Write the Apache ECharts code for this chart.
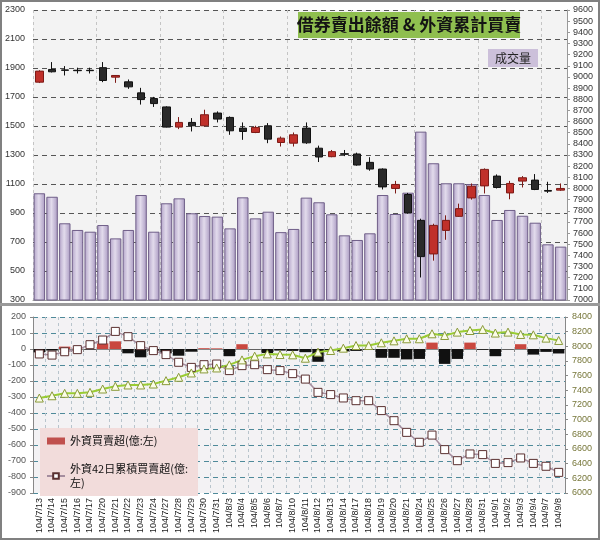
<!DOCTYPE html>
<html><head><meta charset="utf-8">
<script src="https://cdn.jsdelivr.net/npm/echarts@6/dist/echarts.min.js"></script>
<style>html,body{margin:0;padding:0;background:#fff}#c{width:600px;height:540px}</style>
</head><body><div id="c"></div>
<script>
const dates=['104/7/13','104/7/14','104/7/15','104/7/16','104/7/17','104/7/20','104/7/21','104/7/22','104/7/23','104/7/24','104/7/27','104/7/28','104/7/29','104/7/30','104/7/31','104/8/3','104/8/4','104/8/5','104/8/6','104/8/7','104/8/10','104/8/11','104/8/12','104/8/13','104/8/14','104/8/17','104/8/18','104/8/19','104/8/20','104/8/21','104/8/24','104/8/25','104/8/26','104/8/27','104/8/28','104/8/31','104/9/1','104/9/2','104/9/3','104/9/4','104/9/7','104/9/8'];
const volume=[1036,1012,829,783,771,817,725,783,1024,771,967,1001,898,879,875,794,1008,863,909,768,790,1006,974,891,746,714,760,1024,893,1040,1461,1243,1105,1105,1100,1024,852,921,881,833,684,668];
const idxOpen =[8953,9067,9063,9060,9060,9083,8998,8956,8857,8806,8731,8550,8592,8562,8676,8637,8541,8502,8562,8412,8406,8541,8361,8285,8312,8309,8234,8174,8000,7946,7714,7413,7624,7750,7915,8023,8111,7960,8066,8075,7982,7985];
const idxClose=[9052,9046,9059,9056,9056,8968,9013,8911,8797,8761,8550,8592,8562,8661,8622,8517,8511,8547,8442,8451,8481,8409,8282,8330,8306,8210,8174,8014,8036,7780,7389,7669,7714,7819,8020,8171,8009,8045,8096,7991,7976,8000];
const idxLow  =[8945,9040,9013,9031,9031,8953,8947,8893,8752,8731,8547,8532,8511,8556,8592,8481,8436,8496,8406,8376,8376,8400,8237,8280,8290,8204,8159,7991,7955,7774,7202,7353,7540,7744,7900,7955,8000,7903,8009,7985,7960,7978];
const idxHigh =[9060,9133,9097,9083,9083,9133,9016,8977,8902,8821,8737,8640,8631,8706,8691,8646,8592,8562,8586,8466,8502,8592,8384,8345,8345,8321,8280,8180,8068,7960,7729,7684,7759,7864,8045,8180,8126,8068,8111,8129,8060,8045];
const foreignNet=[-21,-10,15,2,-3,35,48,-27,-52,-10,-27,-42,-17,5,4,-45,30,-2,-25,-10,-12,-20,-80,-8,-15,-12,-4,-55,-55,-65,-62,40,-93,-62,40,-5,-45,-2,30,-35,-18,-28];
const foreignCum42=[-31,-38,-17,-4,27,56,110,77,21,-10,-35,-83,-115,-98,-94,-135,-104,-98,-129,-135,-154,-188,-271,-285,-306,-323,-323,-385,-448,-521,-583,-538,-629,-698,-656,-660,-715,-710,-681,-715,-733,-771];
const lendingBal=[7295,7326,7359,7359,7373,7418,7455,7473,7473,7486,7532,7578,7637,7692,7705,7747,7815,7866,7897,7888,7884,7838,7921,7943,7975,8011,8011,8048,8075,8103,8103,8171,8148,8194,8216,8230,8181,8194,8162,8157,8112,8080];

const nameNet='外資買賣超(億:左)';
const nameCum='外資42日累積買賣超(億:左)';
const candles=dates.map((d,i)=>[idxOpen[i],idxClose[i],idxLow[i],idxHigh[i]]);

const chart=echarts.init(document.getElementById('c'),null,{renderer:'canvas'});
const FONT='"Liberation Sans", Arial, sans-serif';
const CJK='"Noto Sans CJK TC","Noto Sans CJK SC",sans-serif';
const plain=v=>String(v);
const lbl={fontSize:9,color:'#333',fontFamily:FONT,formatter:plain};
const vSplit={show:true,lineStyle:{type:[3,3],color:'#c4c4c4',width:1}};

const option={
  animation:false,
  backgroundColor:'#fff',
  grid:[
    {left:33,right:33,top:10,height:290,backgroundColor:'#f3f3f3',show:true,borderWidth:0},
    {left:33,right:35,top:317,height:176,backgroundColor:'#f3f2f4',show:true,borderWidth:0}
  ],
  xAxis:[
    {type:'category',gridIndex:0,data:dates,boundaryGap:true,axisLabel:{show:false},axisTick:{show:false},
     axisLine:{show:true,lineStyle:{color:'#999'}},splitLine:vSplit},
    {type:'category',gridIndex:1,data:dates,boundaryGap:true,
     axisLabel:{rotate:90,fontSize:9,color:'#222',fontFamily:FONT,interval:0,margin:5},
     axisTick:{show:true,inside:false,length:3,lineStyle:{color:'#888'}},
     axisLine:{show:true,lineStyle:{color:'#888'}},splitLine:{show:true,lineStyle:{type:[3,3],color:'#b8c4cc'}}}
  ],
  yAxis:[
    {type:'value',gridIndex:0,min:300,max:2300,interval:200,position:'left',
     axisLabel:Object.assign({margin:8},lbl),axisLine:{show:false},axisTick:{show:false},
     splitLine:{show:true,lineStyle:{type:[5,4],color:'#555',width:1}}},
    {type:'value',gridIndex:0,min:7000,max:9600,interval:100,position:'right',
     axisLabel:Object.assign({margin:6},lbl),axisLine:{show:true,lineStyle:{color:'#999'}},
     axisTick:{show:true,length:3,lineStyle:{color:'#999'}},splitLine:{show:false}},
    {type:'value',gridIndex:1,min:-900,max:200,interval:100,position:'left',
     axisLabel:Object.assign({margin:7},lbl,{color:'#555'}),axisLine:{show:true,lineStyle:{color:'#888'}},
     axisTick:{show:true,length:3,lineStyle:{color:'#888'}},
     splitLine:{show:true,lineStyle:{type:[5,4],color:'#4f8a9a',width:1}}},
    {type:'value',gridIndex:1,min:6000,max:8400,interval:200,position:'right',
     axisLabel:Object.assign({margin:7},lbl,{color:'#77773a'}),axisLine:{show:true,lineStyle:{color:'#888'}},
     axisTick:{show:true,length:3,lineStyle:{color:'#888'}},splitLine:{show:false}}
  ],
  legend:{
    left:40,top:428,orient:'vertical',backgroundColor:'#f2dcdb',
    padding:[6,10,6,6],itemGap:14,itemWidth:18,itemHeight:7,
    textStyle:{fontSize:11,color:'#111',fontFamily:CJK,lineHeight:14},
    formatter:n=>n===nameCum?'外資42日累積買賣超(億:\n左)':n,
    data:[{name:nameNet,icon:'rect',itemStyle:{color:'#c0504d'}},{name:nameCum}]
  },
  series:[
    {type:'bar',name:'成交量',xAxisIndex:0,yAxisIndex:0,data:volume,barCategoryGap:'10%',
     itemStyle:{color:new echarts.graphic.LinearGradient(0,0,1,0,[
       {offset:0,color:'#b2a3c8'},{offset:0.45,color:'#e2dbec'},{offset:1,color:'#a999c1'}]),
       borderColor:'#6f5e88',borderWidth:1},z:2},
    {type:'candlestick',name:'加權指數',xAxisIndex:0,yAxisIndex:1,data:candles,barWidth:8,
     itemStyle:{color:'#c0302a',color0:'#2a2a2a',borderColor:'#7d1a16',borderColor0:'#111',borderWidth:1},z:5},
    {type:'bar',name:nameNet,xAxisIndex:1,yAxisIndex:2,data:foreignNet,barCategoryGap:'10%',
     itemStyle:{color:p=>p.value>=0?'#c9473f':'#111'},z:2},
    {type:'line',name:nameCum,xAxisIndex:1,yAxisIndex:2,data:foreignCum42,symbol:'rect',symbolSize:8,
     lineStyle:{color:'#a58d9e',width:1.5},itemStyle:{color:'#fff',borderColor:'#5a3030',borderWidth:1},z:4},
    {type:'line',name:'借券賣出餘額',xAxisIndex:1,yAxisIndex:3,data:lendingBal,symbol:'triangle',symbolSize:8,
     lineStyle:{color:'#9acd32',width:2},itemStyle:{color:'#fbfde8',borderColor:'#8a9a3a',borderWidth:1},z:4}
  ],
  graphic:[
    {type:'rect',shape:{x:1,y:1,width:598,height:538},style:{fill:'none',stroke:'#808080',lineWidth:2},z:100,silent:true},
    {type:'rect',shape:{x:0,y:303,width:600,height:3},style:{fill:'#9a9a9a'},z:100,silent:true},
    {type:'rect',shape:{x:298,y:12,width:222,height:26},style:{fill:'#8fbf4f'},z:50,silent:true},
    {type:'text',x:409,y:25,style:{text:'借券賣出餘額 & 外資累計買賣',font:'bold 17px "Noto Sans CJK TC",sans-serif',fill:'#141414',align:'center',verticalAlign:'middle'},z:51,silent:true},
    {type:'rect',shape:{x:488,y:49,width:50,height:18},style:{fill:'#ccc0da'},z:50,silent:true},
    {type:'text',x:513,y:58,style:{text:'成交量',font:'12px "Noto Sans CJK TC",sans-serif',fill:'#222',align:'center',verticalAlign:'middle'},z:51,silent:true}
  ]
};
chart.setOption(option);
</script></body></html>
